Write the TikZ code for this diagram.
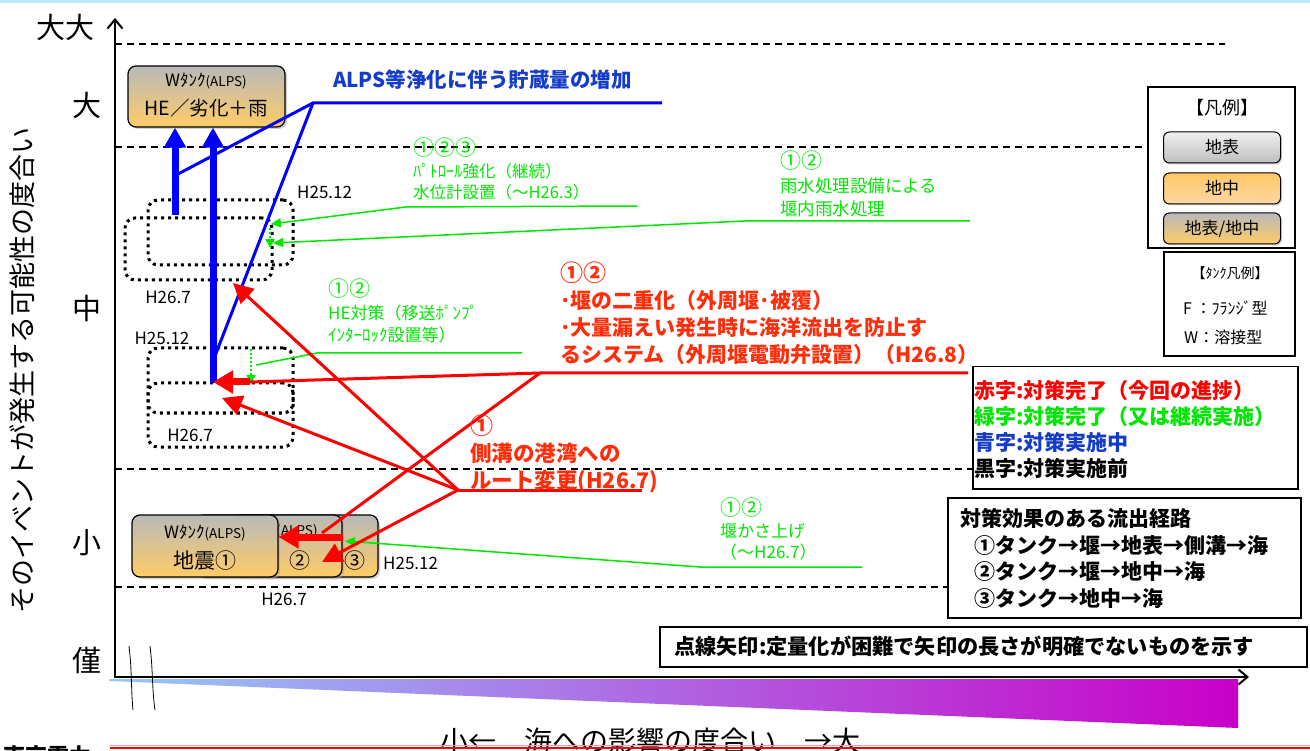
\documentclass[tikz,border=0pt]{standalone}
\usepackage{fontspec}
\setmainfont{Noto Sans CJK JP}
\usetikzlibrary{arrows.meta,shadows,positioning}
\definecolor{grn}{RGB}{0,230,0}
\definecolor{redtxt}{RGB}{255,45,10}
\definecolor{bluetxt}{RGB}{20,60,200}
\definecolor{tankgray}{RGB}{185,185,185}
\definecolor{tankorange}{RGB}{255,204,102}
\newcommand{\fsz}[2]{\fontsize{#1}{#2}\selectfont}
\newcommand{\gnum}[1]{{\fsz{21}{22}#1}}

\begin{document}
\begin{tikzpicture}[x=1pt, y=-1pt,
    tank/.style={draw, line width=1.2pt, rounded corners=8pt, minimum width=146, minimum height=62,
      top color=tankgray, bottom color=tankorange, drop shadow={shadow xshift=2pt, shadow yshift=-2pt, fill=black!35}},
    zone/.style={draw, line width=3pt, dash pattern=on 3pt off 4pt, rounded corners=10pt},
    level/.style={line width=1.2pt, dash pattern=on 7pt off 5pt},
    gtxt/.style={text=grn, align=left, anchor=north west, inner sep=0, font=\fsz{17}{22}},
    rtxt/.style={text=redtxt, align=left, anchor=north west, inner sep=0, font=\bfseries\fsz{21}{27}},
    gline/.style={grn, line width=1.5pt},
    garrow/.style={gline, -{Triangle[length=10pt,width=9pt]}},
    rline/.style={red, line width=3pt},
    rarrow/.style={rline, -{Triangle[length=20pt,width=20pt]}},
    rthick/.style={red, line width=7pt, -{Triangle[length=20pt,width=22pt]}},
    bline/.style={blue, line width=3pt},
    barrow/.style={blue, line width=7pt, -{Triangle[length=20pt,width=21pt]}},
    datelbl/.style={font=\fsz{17}{20}, inner sep=1pt},
    keybox/.style={draw, line width=1.5pt, inner sep=0},
    legitem/.style={draw, line width=1pt, rounded corners=6pt, minimum width=117, minimum height=31, font=\fsz{17}{20},
      drop shadow={shadow xshift=1.5pt, shadow yshift=-1.5pt, fill=black!35}}
]
\useasboundingbox (0,0) rectangle (1310,751);
\fill[cyan!25] (0,0) rectangle (1310,3);

% Sea impact band
\shade[left color={rgb,255:red,150;green,200;blue,250}, right color={rgb,255:red,200;green,0;blue,200}]
  (109,679) -- (1238,679) -- (1238,728) -- (109,681) -- cycle;

% Levels
\draw[level] (115,44) -- (1225,44);
\draw[level] (115,147) -- (1148,147);
\draw[level] (115,469) -- (972,469);
\draw[level] (115,587) -- (947,587);

% Axes
\draw[line width=2pt, -{Straight Barb[length=9pt,width=15pt]}] (115,677) -- (115,18);
\draw[line width=2pt, -{Straight Barb[length=9pt,width=15pt]}] (114,677) -- (1249,677);
\draw[line width=0.8pt] (129,646) .. controls (132,670) and (131,690) .. (133,710);
\draw[line width=0.8pt] (150,646) .. controls (153,670) and (152,690) .. (155,710);

% Axis labels
\node[font=\fsz{29}{32}] (top) at (65,27) {大大};
\foreach \y/\t in {105/大, 308/中, 543/小, 660/僅}
    \node[font=\fsz{29}{32}] (lvl\y) at (87,\y) {\t};
\node[rotate=90, font=\fsz{27}{32}] (ylabel) at (22,370) {そのイベントが発生する可能性の度合い};
\node[font=\fsz{28}{32}] (xlabel) at (650,741) {小←　海への影響の度合い　→大};

% Footer
\draw[red!40, line width=1pt] (110,745) -- (1310,745);
\draw[red, line width=1.5pt] (110,748) -- (1310,748);
\node[font=\bfseries\fsz{22}{24}, anchor=west] (company) at (0,756) {東京電力};

% Tank HE
\node[tank, minimum width=157, minimum height=61] (tankHE) at (206.5,96.5) {};
\node (tankHEa) at (206,81) {\fsz{17}{18}Wﾀﾝｸ\fsz{13.5}{14}(ALPS)};
\node[font=\fsz{19.5}{22}] (tankHEb) at (206,108) {HE／劣化＋雨};

% Zones
\node[zone, minimum width=145, minimum height=65] (zoneA) at (220.5,232.5) {};
\node[zone, minimum width=147, minimum height=62] (zoneB) at (198.5,249) {};
\node[zone, minimum width=145, minimum height=65] (zoneC) at (220.5,380.5) {};
\node[zone, minimum width=145, minimum height=64] (zoneD) at (220.5,415) {};
\node[datelbl, anchor=west] (dA) at (296,192) {H25.12};
\node[datelbl] (dB) at (168,297) {H26.7};
\node[datelbl] (dC) at (162,338) {H25.12};
\node[datelbl] (dD) at (190,435) {H26.7};

% Tanks earthquake
\node[tank] (tankC) at (305,546) {};
\node[font=\fsz{21}{22}] (tankCn) at (355,561) {③};
\node[tank] (tankB) at (269,546) {};
\node[font=\fsz{13.5}{14}] (tankBa) at (297,531) {(ALPS)};
\node[font=\fsz{21}{22}] (tankBn) at (300,561) {②};
\node[tank] (tankA) at (205,546) {};
\node (tankAa) at (205,533) {\fsz{17}{18}Wﾀﾝｸ\fsz{13.5}{14}(ALPS)};
\node[font=\fsz{21}{22}] (tankAn) at (205,561) {地震①};
\node[datelbl, anchor=west] (dE) at (382,563) {H25.12};
\node[datelbl] (dF) at (284,599) {H26.7};

% Blue: ALPS
\coordinate (bluehub) at (313,103);
\coordinate (blueend) at (662,103);
\coordinate (b1) at (175,215);
\coordinate (b2) at (213,383);
\draw[barrow] (b1) -- (b1 |- tankHE.south);
\draw[barrow] (b2) -- (b2 |- tankHE.south);
\draw[bline] (178,174) -- (bluehub) -- (blueend);
\draw[bline] (bluehub) -- (215,356);
\node[text=bluetxt, font=\bfseries\fsz{20.5}{22}, anchor=west, inner sep=0] (alps) at (333,80) {ALPS等浄化に伴う貯蔵量の増加};

% Green: upper
\coordinate (g1a) at (637,206);
\coordinate (g1b) at (406,207);
\coordinate (g2a) at (970,221);
\coordinate (g2b) at (745,221);
\draw[garrow] (g1a) -- (g1b) -- (271,224);
\draw[garrow] (g2a) -- (g2b) -- (273,243);
\draw[grn, line width=1.5pt, dash pattern=on 2pt off 2pt, -{Triangle[length=9pt,width=9pt]}] (270,228) -- (270,248);
\node[gtxt, font=\fsz{16.5}{21.5}] (patrol) at (413,138) {\gnum{①②③}\\ﾊﾟﾄﾛｰﾙ強化（継続）\\水位計設置（～H26.3）};
\node[gtxt, font=\fsz{17.5}{23.5}] (rain) at (780,151) {\gnum{①②}\\雨水処理設備による\\堰内雨水処理};

% Green: middle
\draw[gline] (522,353) -- (317,353) -- (256,365);
\draw[grn, line width=1.5pt, dash pattern=on 2pt off 2pt, -{Triangle[length=9pt,width=9pt]}] (251,349) -- (251,384);
\node[gtxt, font=\fsz{17}{22.5}] (heplan) at (328,279) {\gnum{①②}\\HE対策（移送ﾎﾟﾝﾌﾟ\\ｲﾝﾀｰﾛｯｸ設置等）};

% Green: lower
\draw[garrow] (862,567) -- (700,567) -- (345,541);
\node[gtxt, font=\fsz{17}{21.5}] (raise) at (720,498) {\gnum{①②}\\堰かさ上げ\\（～H26.7）};

% Red: double dike
\coordinate (r2hub) at (540,373);
\coordinate (r2end) at (968,373);
\draw[rline] (r2end) -- (r2hub) -- (250,382);
\draw[rthick] (250,382) -- (213,382);
\draw[rline] (r2hub) -- (322,533);
\draw[rthick] (tankB.east |- 0,537) -- (tankA.east |- 0,537);
\node[rtxt] (dike) at (560,262) {{\fsz{23}{24}①②}\\･堰の二重化（外周堰･被覆）\\･大量漏えい発生時に海洋流出を防止す\\るシステム（外周堰電動弁設置）（H26.8）};

% Red: gutter route
\coordinate (r1hub) at (458,490);
\coordinate (r1end) at (642,490);
\draw[rline] (r1end) -- (r1hub);
\draw[rarrow] (r1hub) -- (233,283);
\draw[rarrow] (r1hub) -- (222,398);
\draw[rarrow] (r1hub) -- (322,562);
\node[rtxt, font=\bfseries\fsz{21.5}{27}] (gutter) at (470,415) {{\fsz{23}{24}①}\\側溝の港湾への\\ルート変更(H26.7)};

% Legend
\node[keybox, minimum width=147, minimum height=161, fill=white] (legend) at (1221.5,167.5) {};
\node[font=\fsz{18}{20}] (legtitle) at (1222,108) {【凡例】};
\node[legitem, top color={rgb,255:red,240;green,240;blue,240}, bottom color={rgb,255:red,190;green,190;blue,190}] (legsurf) at (1222,147.5) {地表};
\node[legitem, below=9pt of legsurf, top color={rgb,255:red,255;green,200;blue,100}, bottom color={rgb,255:red,255;green,215;blue,165}] (legunder) {地中};
\node[legitem, below=8pt of legunder, top color=tankgray, bottom color=tankorange] (legboth) {地表/地中};

% Tank legend
\node[keybox, minimum width=131, minimum height=104] (tanklegend) at (1229.5,304) {};
\node[font=\fsz{14}{16}] (tltitle) at (1230,273) {【ﾀﾝｸ凡例】};
\node[font=\fsz{16}{18}, anchor=west, inner sep=0] (tlF) at (1183,308) {F ：ﾌﾗﾝｼﾞ型};
\node[font=\fsz{16}{18}, anchor=west, inner sep=0] (tlW) at (1184,337) {W：溶接型};

% Colour key
\node[keybox, minimum width=325, minimum height=122, anchor=north west, fill=white] (colorkey) at (972,366) {};
\node[align=left, anchor=north west, inner sep=0, font=\bfseries\fsz{21}{26}] (colortext) at (974,380)
  {{\color{red}赤字:対策完了（今回の進捗）}\\{\color{grn}緑字:対策完了（又は継続実施）}\\{\color{bluetxt}青字:対策実施中}\\黒字:対策実施前};

% Routes
\node[keybox, minimum width=353, minimum height=120, anchor=north west, fill=white] (routes) at (947,497) {};
\node[align=left, anchor=north west, inner sep=0, font=\bfseries\fsz{21}{26.7}] (routetext) at (960,508)
  {対策効果のある流出経路\\\hspace*{14pt}①タンク→堰→地表→側溝→海\\\hspace*{14pt}②タンク→堰→地中→海\\\hspace*{14pt}③タンク→地中→海};

% Note
\node[keybox, minimum width=647, minimum height=40, anchor=north west, fill=white] (note) at (659,626) {};
\node[anchor=west, inner sep=0, font=\bfseries\fsz{21.2}{22}] (notetext) at (674,646) {点線矢印:定量化が困難で矢印の長さが明確でないものを示す};
\end{tikzpicture}
\end{document}
